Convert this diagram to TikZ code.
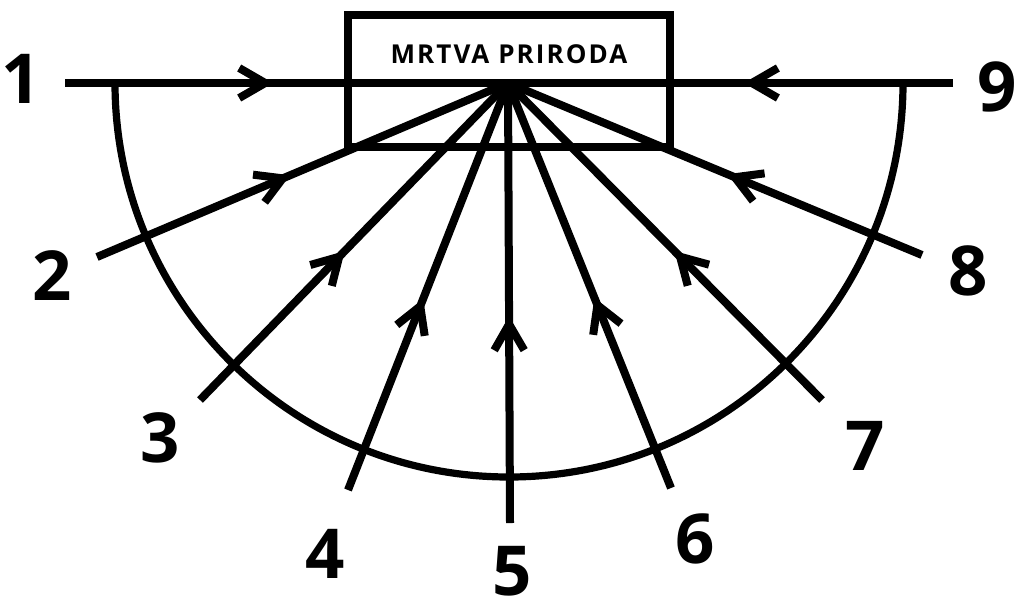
\documentclass[tikz,border=0pt]{standalone}
\usepackage{fontspec}
\setmainfont{Open Sans}
\newfontfamily\boxfont[LetterSpace=8]{Open Sans}
\usetikzlibrary{arrows.meta,decorations.markings}

\tikzset{
  ray/.style={line width=2mm, postaction={decorate},
    decoration={markings, mark=at position 0.47 with {\arrow{Straight Barb[length=6.5mm,width=7.5mm]}}}},
  num/.style={font=\bfseries\fontsize{49}{56}\selectfont, inner sep=0pt, anchor=base},
}

\begin{document}
\begin{tikzpicture}[x=0.025cm, y=-0.025cm]
    \useasboundingbox (0,0) rectangle (1017,606);

    % the box
    \node[draw, line width=2mm, minimum width=8.05cm, minimum height=3.3cm, inner sep=0pt] (box) at (509,81) {};
    \node[font=\boxfont\bfseries\fontsize{18.5}{20}\selectfont, anchor=base, inner sep=0pt] (title) at (509,63) {MRTVA PRIRODA};
    \coordinate (c) at (508,83);

    % half circle
    \draw[line width=1.8mm] (115,83) arc[start angle=180, end angle=0, radius=394];

    % outer ends of the rays
    \coordinate (e1) at (65,83);
    \coordinate (e2) at (97,257);
    \coordinate (e3) at (200,400);
    \coordinate (e4) at (348,490);
    \coordinate (e5) at (510,523);
    \coordinate (e6) at (671,488);
    \coordinate (e7) at (822,400);
    \coordinate (e8) at (922,255);
    \coordinate (e9) at (953,83);

    % rays into the box
    \draw[ray] (e1) -- (c);
    \draw[ray] (e2) -- (c);
    \draw[ray] (e3) -- (c);
    \draw[ray] (e4) -- (c);
    \draw[ray] (e5) -- (c);
    \draw[ray] (e6) -- (c);
    \draw[ray] (e7) -- (c);
    \draw[ray] (e8) -- (c);
    \draw[ray] (e9) -- (c);

    % numbers
    \node[num] (n1) at (21,103) {1};
    \node[num] (n2) at (52,300) {2};
    \node[num] (n3) at (160,462) {3};
    \node[num] (n4) at (325,578) {4};
    \node[num] (n5) at (512,595) {5};
    \node[num] (n6) at (695,563) {6};
    \node[num] (n7) at (865,470) {7};
    \node[num] (n8) at (968,295) {8};
    \node[num] (n9) at (997,111) {9};
\end{tikzpicture}
\end{document}
